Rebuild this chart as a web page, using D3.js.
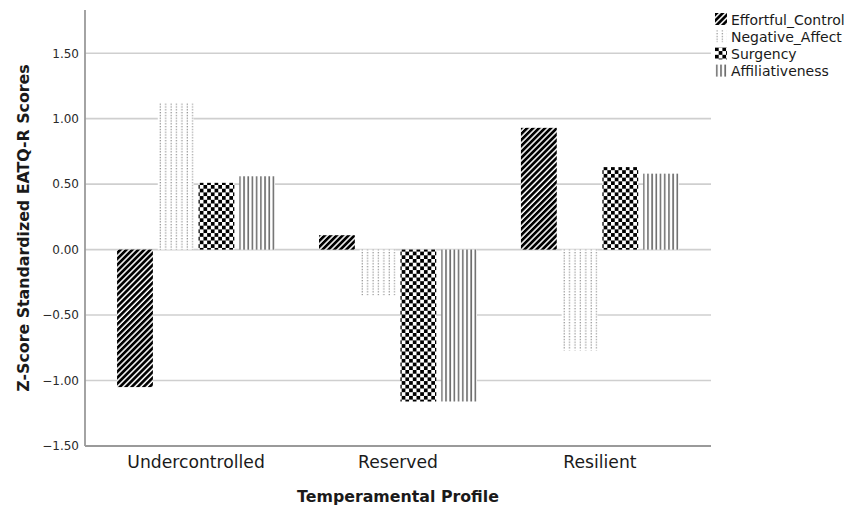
<!DOCTYPE html>
<html>
<head>
<meta charset="utf-8">
<script src="https://cdn.jsdelivr.net/npm/d3@7"></script>
<style>
  body { margin: 0; background: #fff; }
  text { font-family: "DejaVu Sans", sans-serif; }
</style>
</head>
<body>
<svg id="chart" width="860" height="508"></svg>
<script>
// chart data
var profiles = ['Undercontrolled', 'Reserved', 'Resilient']
var traits = ['Effortful_Control', 'Negative_Affect', 'Surgency', 'Affiliativeness']
var effortfulControl = [-1.05, 0.11, 0.93]
var negativeAffect = [1.12, -0.35, -0.77]
var surgency = [0.51, -1.16, 0.63]
var affiliativeness = [0.56, -1.16, 0.58]
var yTicks = [-1.5, -1.0, -0.5, 0.0, 0.5, 1.0, 1.5]

var seriesValues = [effortfulControl, negativeAffect, surgency, affiliativeness]
var patternIds = ['pat-ec', 'pat-na', 'pat-su', 'pat-af']

const plotLeft = 85
const plotRight = 711
const plotTop = 10
const plotBottom = 446

var svg = d3.select('#chart')
var defs = svg.append('defs')

// diagonal black stripes
var pEc = defs.append('pattern').attr('id', 'pat-ec')
  .attr('patternUnits', 'userSpaceOnUse')
  .attr('width', 4.2).attr('height', 4.2)
  .attr('patternTransform', 'rotate(45)')
pEc.append('rect').attr('width', 4.2).attr('height', 4.2).attr('fill', '#fff')
pEc.append('rect').attr('width', 2.7).attr('height', 4.2).attr('fill', '#000')

// sparse grey dotted columns
var pNa = defs.append('pattern').attr('id', 'pat-na')
  .attr('patternUnits', 'userSpaceOnUse')
  .attr('width', 5.4).attr('height', 2.8)
pNa.append('rect').attr('width', 5.4).attr('height', 2.8).attr('fill', '#fff')
pNa.append('rect').attr('x', 1.5).attr('width', 1.1).attr('height', 1.3).attr('fill', '#8a8a8a')

// checkerboard
var pSu = defs.append('pattern').attr('id', 'pat-su')
  .attr('patternUnits', 'userSpaceOnUse')
  .attr('width', 7.4).attr('height', 7.4)
pSu.append('rect').attr('width', 7.4).attr('height', 7.4).attr('fill', '#fff')
pSu.append('rect').attr('width', 3.7).attr('height', 3.7).attr('fill', '#000')
pSu.append('rect').attr('x', 3.7).attr('y', 3.7).attr('width', 3.7).attr('height', 3.7).attr('fill', '#000')

// vertical grey lines
var pAf = defs.append('pattern').attr('id', 'pat-af')
  .attr('patternUnits', 'userSpaceOnUse')
  .attr('width', 4.2).attr('height', 4)
pAf.append('rect').attr('width', 4.2).attr('height', 4).attr('fill', '#fff')
pAf.append('rect').attr('x', 1).attr('width', 1.6).attr('height', 4).attr('fill', '#6e6e6e')

var y = d3.scaleLinear().domain([-1.5, 1.83]).range([plotBottom, plotTop])
var x0 = d3.scalePoint().domain(profiles).range([plotLeft, plotRight]).padding(0.55)
var x1 = d3.scaleBand().domain(traits).range([-79, 79]).paddingInner(0.12)

// gridlines
svg.append('g').selectAll('line')
  .data(yTicks.filter(d => d > -1.5))
  .join('line')
  .attr('x1', plotLeft).attr('x2', plotRight)
  .attr('y1', d => y(d)).attr('y2', d => y(d))
  .attr('stroke', '#cfcfcf').attr('stroke-width', 1.6)

// y axis
var yAxis = svg.append('g')
  .attr('transform', 'translate(' + plotLeft + ',0)')
  .call(d3.axisLeft(y).tickValues(yTicks).tickFormat(d3.format('.2f')).tickSize(0).tickPadding(6))
yAxis.select('.domain').remove()
yAxis.selectAll('text').attr('font-size', 12).attr('fill', '#2a2a2a')
  .style('font-family', '"DejaVu Sans", sans-serif')

// bars
profiles.forEach((p, i) => {
  var g = svg.append('g').attr('transform', 'translate(' + x0(p) + ',0)')
  traits.forEach((t, k) => {
    var v = seriesValues[k][i]
    g.append('rect')
      .attr('x', x1(t))
      .attr('width', x1.bandwidth())
      .attr('y', y(Math.max(0, v)))
      .attr('height', Math.abs(y(v) - y(0)))
      .attr('fill', 'url(#' + patternIds[k] + ')')
  })
})

// axis lines
svg.append('line')
  .attr('x1', plotLeft).attr('x2', plotLeft)
  .attr('y1', plotTop).attr('y2', plotBottom)
  .attr('stroke', '#9a9a9a').attr('stroke-width', 1.8)
svg.append('line')
  .attr('x1', plotLeft).attr('x2', plotRight)
  .attr('y1', plotBottom).attr('y2', plotBottom)
  .attr('stroke', '#9a9a9a').attr('stroke-width', 1.8)

// category labels
svg.append('g').selectAll('text')
  .data(profiles)
  .join('text')
  .attr('x', d => x0(d))
  .attr('y', 468)
  .attr('text-anchor', 'middle')
  .attr('font-size', 17.2)
  .attr('fill', '#1a1a1a')
  .text(d => d)

// axis titles
svg.append('text')
  .attr('x', 398).attr('y', 502)
  .attr('text-anchor', 'middle')
  .attr('font-size', 15.8).attr('font-weight', 'bold').attr('fill', '#1a1a1a')
  .text('Temperamental Profile')

svg.append('text')
  .attr('transform', 'translate(29,228) rotate(-90)')
  .attr('text-anchor', 'middle')
  .attr('font-size', 15.8).attr('font-weight', 'bold').attr('fill', '#1a1a1a')
  .text('Z-Score Standardized EATQ-R Scores')

// legend
var legend = svg.append('g').attr('transform', 'translate(715,13)')
traits.forEach((t, k) => {
  var row = legend.append('g').attr('transform', 'translate(0,' + (k * 17.2) + ')')
  row.append('rect')
    .attr('width', 12).attr('height', 12)
    .attr('fill', 'url(#' + patternIds[k] + ')')
  row.append('text')
    .attr('x', 16).attr('y', 11.5)
    .attr('font-size', 14).attr('fill', '#1a1a1a')
    .text(t)
})
</script>
</body>
</html>
